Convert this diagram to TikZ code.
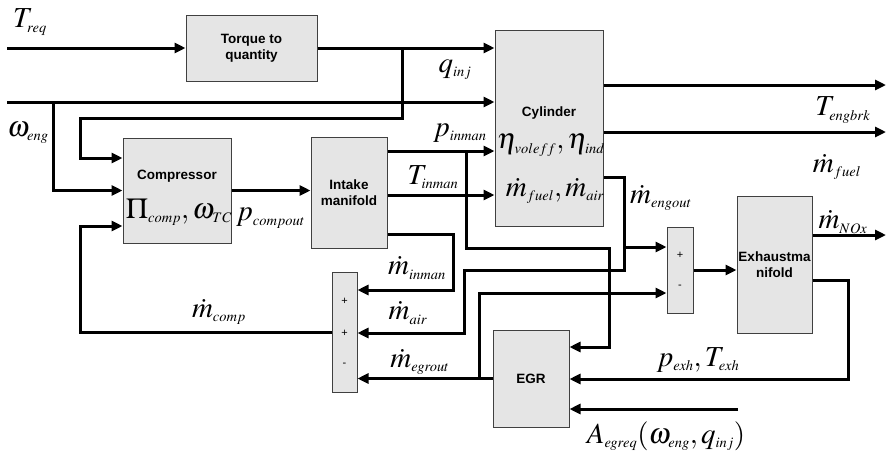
\documentclass[tikz,border=0pt]{standalone}
\usepackage{mathptmx}
\usepackage[no-math]{fontspec}
\setsansfont{Liberation Sans}
\DeclareMathSizes{29}{29}{14.5}{11}
\usetikzlibrary{arrows.meta, calc}

\begin{document}
\begin{tikzpicture}[x=1pt, y=-1pt,
  blk/.style={draw=black!75, fill=gray!20, line width=1pt, inner sep=0pt, align=center,
    font=\sffamily\bfseries\fontsize{13.5}{16}\selectfont},
  txt/.style={inner sep=0pt, font=\sffamily\bfseries\fontsize{13.5}{16}\selectfont},
  sgn/.style={inner sep=0pt, font=\sffamily\fontsize{11}{12}\selectfont},
  lbl/.style={inner sep=0pt, font=\fontsize{29}{31}\selectfont},
  sig/.style={line width=3pt, -{Triangle[length=11pt, width=10pt]}}]
  \useasboundingbox (0,0) rectangle (887,456);

  %--- Blocks ---
  \node[blk, minimum width=131pt, minimum height=66pt] (torque) at (251.5,48) {Torque to\\quantity};
  \node[blk, minimum width=108pt, minimum height=196pt] (cyl) at (549,128) {};
  \node[blk, minimum width=108pt, minimum height=105pt] (comp) at (177,190.5) {};
  \node[blk, minimum width=76pt, minimum height=111pt] (intake) at (349,192.5) {Intake\\manifold};
  \node[blk, minimum width=25pt, minimum height=120pt] (sumA) at (344.5,332) {};
  \node[blk, minimum width=76pt, minimum height=97pt] (egr) at (531,378.5) {EGR};
  \node[blk, minimum width=26pt, minimum height=86pt] (sumB) at (680,270) {};
  \node[blk, minimum width=75pt, minimum height=137pt] (exh) at (774.5,264.5) {Exhaustma\\nifold};

  % block contents
  \node[txt] (cyltitle) at (549,113) {Cylinder};
  \node[lbl] (cyleta) at (551,145) {$\eta_{voleff},\eta_{ind}$};
  \node[lbl] (cylm) at (555,191) {$\dot m_{fuel},\dot m_{air}$};
  \node[txt] (comptitle) at (177,176) {Compressor};
  \node[lbl] (compvar) at (179,212) {$\Pi_{comp},\omega_{TC}$};
  \node[sgn] (sumAa) at (344.5,301) {+};
  \node[sgn] (sumAb) at (344.5,333) {+};
  \node[sgn] (sumAc) at (344.5,365) {-};
  \node[sgn] (sumBa) at (680,255) {+};
  \node[sgn] (sumBb) at (680,287) {-};

  %--- Ports and bends ---
  \coordinate (treq) at (7,48);
  \coordinate (weng) at (7,102);
  \coordinate (qbr) at (402,48);
  \coordinate (qturn) at (80,118);
  \coordinate (wbr) at (53,102);
  \coordinate (fbturn) at (80,226);
  \coordinate (pbr) at (466,151);
  \coordinate (pturn) at (609,248);
  \coordinate (minturn) at (453,290);
  \coordinate (engbr) at (624,247);
  \coordinate (airturn) at (464,270);
  \coordinate (egrbr) at (479,378.5);
  \coordinate (exhturn) at (848,379);
  \coordinate (aegr) at (738,409);
  \coordinate (tend) at (886,85);
  \coordinate (fend) at (886,132);
  \coordinate (noxend) at (886,235);

  %--- Signals ---
  \draw[sig] (treq) -- (torque.west);
  \draw[sig] (torque.east) -- (cyl.west |- torque.east);
  \draw[sig] (weng) -- (cyl.west |- weng);
  \draw[sig] (qbr) |- (qturn) |- (comp.west |- 0,158);
  \draw[sig] (wbr) |- (comp.west);
  \draw[sig] (sumA.west) -| (fbturn) -- (comp.west |- fbturn);
  \draw[sig] (comp.east) -- (intake.west |- comp.east);
  \draw[sig] (intake.east |- 0,151) -- (cyl.west |- 0,151);
  \draw[sig] (intake.east |- 0,195) -- (cyl.west |- 0,195);
  \draw[sig] (intake.east |- 0,234) -| (minturn) -- (sumA.east |- minturn);
  \draw[sig] (pbr) |- (pturn) |- (egr.east |- 0,347);
  \draw[sig] (cyl.east |- 0,177) -| (engbr) -- (sumB.west |- engbr);
  \draw[sig] (engbr) |- (airturn) |- (sumA.east |- 0,333);
  \draw[sig] (egr.west) -- (sumA.east |- egr.west);
  \draw[sig] (egrbr) |- (sumB.west |- 0,293);
  \draw[sig] (sumB.east) -- (exh.west |- sumB.east);
  \draw[sig] (exh.east |- 0,235) -- (noxend);
  \draw[sig] (exh.east |- 0,280) -| (exhturn) -- (egr.east |- exhturn);
  \draw[sig] (aegr) -- (egr.east |- aegr);
  \draw[sig] (cyl.east |- 0,85) -- (tend);
  \draw[sig] (cyl.east |- 0,132) -- (fend);

  %--- Labels ---
  \node[lbl] (ltreq) at (30,22) {$T_{req}$};
  \node[lbl] (lweng) at (28,133) {$\omega_{eng}$};
  \node[lbl] (lqinj) at (455,70) {$q_{inj}$};
  \node[lbl] (lpin) at (460,133) {$p_{inman}$};
  \node[lbl] (ltin) at (433,177) {$T_{inman}$};
  \node[lbl, anchor=west] (lpco) at (236,218) {$p_{compout}$};
  \node[lbl] (lmco) at (219,312) {$\dot m_{comp}$};
  \node[lbl] (lmin) at (417,268) {$\dot m_{inman}$};
  \node[lbl] (lmair) at (408,313) {$\dot m_{air}$};
  \node[lbl] (lmegr) at (420,362) {$\dot m_{egrout}$};
  \node[lbl] (lmeng) at (661,198) {$\dot m_{engout}$};
  \node[lbl] (lteng) at (843,110) {$T_{engbrk}$};
  \node[lbl] (lmfu) at (837,167) {$\dot m_{fuel}$};
  \node[lbl] (lmnox) at (843,222) {$\dot m_{NOx}$};
  \node[lbl] (lpexh) at (698,360) {$p_{exh},T_{exh}$};
  \node[lbl] (laegr) at (666,436) {$A_{egreq}(\omega_{eng},q_{inj})$};
\end{tikzpicture}
\end{document}
